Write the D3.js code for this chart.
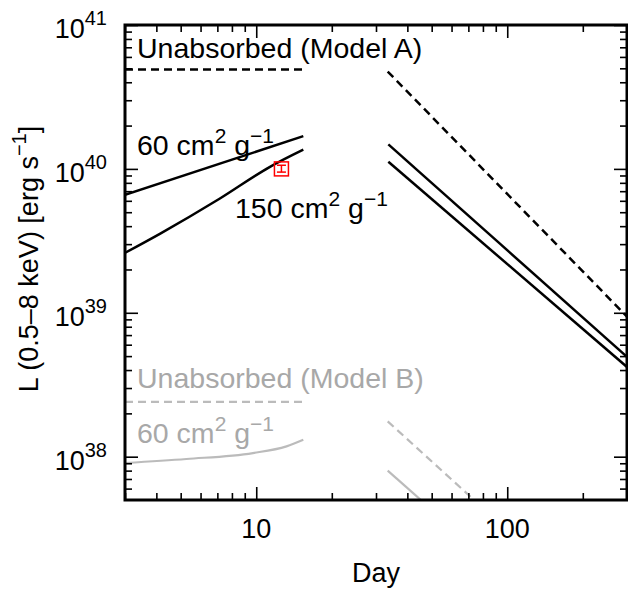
<!DOCTYPE html>
<html>
<head>
<meta charset="UTF-8">
<title>luminosity</title>
<script src="https://cdn.jsdelivr.net/npm/d3@7"></script>
<style>
  html, body { margin: 0; padding: 0; overflow: hidden; background: #fff; }
  svg { display: block; }
  text { font-family: "Liberation Sans", Arial, Helvetica, sans-serif; }
</style>
</head>
<body>
<script>
// day, luminosity pairs
var unabsA_early = [[3, 4.9e40], [15.4, 4.9e40]];
var unabsA_late = [[33.4, 4.75e40], [300, 9.4e38]];
var k60A_early = [[3, 6.6e39], [15.4, 1.69e40]];
var k150A_early = [[3, 2.61e39], [4.13, 3.54e39], [7.14, 6.2e39], [11.3, 1.03e40], [15.4, 1.36e40]];
var k60A_late = [[33.6, 1.48e40], [300, 4.94e38]];
var k150A_late = [[33.6, 1.12e40], [300, 4.2e38]];

var unabsB_early = [[3, 2.4e38], [15.4, 2.4e38]];
var unabsB_late = [[33.4, 1.76e38], [73.8, 5e37]];
var k60B_early = [[3, 9.04e37], [5.27, 9.64e37], [9.7, 1.06e38], [13.2, 1.18e38], [15.4, 1.31e38]];
var k60B_late = [[33.4, 8.0e37], [45.3, 5e37]];

// observed point: day, L, lower, upper
var obs = [[12.6, 1.0e40, 0.95e40, 1.06e40]];

var xMajor = [10, 100];
var xMinor = [3, 4, 5, 6, 7, 8, 9, 20, 30, 40, 50, 60, 70, 80, 90, 200, 300];
var yExp = [38, 39, 40, 41];

var width = 628, height = 589,
    pLeft = 125, pRight = 627, pTop = 25, pBottom = 500;

var x = d3.scaleLog().domain([3, 300]).range([pLeft, pRight]);
var y = d3.scaleLog().domain([5e37, 1e41]).range([pBottom, pTop]);

var yMinor = [];
yExp.forEach(function(e){
    for (var k = 2; k <= 9; k++) {
        var v = k * Math.pow(10, e - 1);
        if (v > 5e37 && v < 1e41) yMinor.push(v);
    }
});
var yMajor = yExp.map(function(e){ return Math.pow(10, e); });

var svg = d3.select("body").append("svg")
    .attr("width", width)
    .attr("height", height);

svg.append("clipPath").attr("id", "clip")
  .append("rect")
    .attr("x", pLeft).attr("y", pTop)
    .attr("width", pRight - pLeft).attr("height", pBottom - pTop);

function renderAxes(){
    var sides = [
        [d3.axisBottom, x, "translate(0," + pBottom + ")", xMajor, xMinor],
        [d3.axisTop, x, "translate(0," + pTop + ")", xMajor, xMinor],
        [d3.axisLeft, y, "translate(" + pLeft + ",0)", yMajor, yMinor],
        [d3.axisRight, y, "translate(" + pRight + ",0)", yMajor, yMinor]
    ];
    sides.forEach(function(s){
        [[s[3], -13], [s[4], -7]].forEach(function(t){
            var g = svg.append("g").attr("transform", s[2]);
            g.call(s[0](s[1]).tickValues(t[0]).tickSize(t[1]).tickSizeOuter(0).tickFormat(""));
            g.select(".domain").remove();
            g.selectAll("line").attr("stroke", "#000").attr("stroke-width", 1.6);
        });
    });

    svg.append("rect")
        .attr("x", pLeft).attr("y", pTop)
        .attr("width", pRight - pLeft).attr("height", pBottom - pTop)
        .attr("fill", "none").attr("stroke", "#000").attr("stroke-width", 3);

    // x tick labels
    svg.selectAll("text.xlab").data(xMajor).enter().append("text")
        .attr("class", "xlab")
        .attr("x", function(d){ return x(d); })
        .attr("y", pBottom + 38)
        .attr("text-anchor", "middle")
        .attr("font-size", 27)
        .text(function(d){ return d; });

    // y tick labels 10^n
    var yl = svg.selectAll("text.ylab").data(yExp).enter().append("text")
        .attr("class", "ylab")
        .attr("x", 107)
        .attr("y", function(d){ return y(Math.pow(10, d)) + 13; })
        .attr("text-anchor", "end")
        .attr("font-size", 27);
    yl.append("tspan").text("10");
    yl.append("tspan").attr("font-size", 20).attr("dy", -13).text(function(d){ return d; });

    svg.append("text")
        .attr("x", (pLeft + pRight) / 2)
        .attr("y", 582)
        .attr("text-anchor", "middle")
        .attr("font-size", 27)
        .text("Day");

    var ylab = svg.append("text")
        .attr("transform", "translate(38,259) rotate(-90)")
        .attr("text-anchor", "middle")
        .attr("font-size", 27);
    ylab.append("tspan").text("L (0.5\u20138 keV) [erg s");
    ylab.append("tspan").attr("font-size", 20).attr("dy", -12).text("\u22121");
    ylab.append("tspan").attr("dy", 12).text("]");
}

function renderLines(){
    var line = d3.line()
        .x(function(d){ return x(d[0]); })
        .y(function(d){ return y(d[1]); })
        .curve(d3.curveMonotoneX);

    var series = [
        {d: unabsA_early, c: "#000", w: 2.5, dash: "8,5"},
        {d: unabsA_late, c: "#000", w: 2.5, dash: "8,5"},
        {d: k60A_early, c: "#000", w: 2.5},
        {d: k150A_early, c: "#000", w: 2.5},
        {d: k60A_late, c: "#000", w: 2.5},
        {d: k150A_late, c: "#000", w: 2.5},
        {d: unabsB_early, c: "#bbbbbb", w: 2.2, dash: "8,5"},
        {d: unabsB_late, c: "#bbbbbb", w: 2.2, dash: "8,5"},
        {d: k60B_early, c: "#bbbbbb", w: 2.2},
        {d: k60B_late, c: "#bbbbbb", w: 2.2}
    ];

    svg.append("g").attr("clip-path", "url(#clip)")
      .selectAll("path").data(series).enter().append("path")
        .attr("d", function(s){ return line(s.d); })
        .attr("fill", "none")
        .attr("stroke", function(s){ return s.c; })
        .attr("stroke-width", function(s){ return s.w; })
        .attr("stroke-dasharray", function(s){ return s.dash || null; });
}

function renderObs(){
    var g = svg.append("g").selectAll("g").data(obs).enter().append("g")
        .attr("stroke", "#ff0000").attr("stroke-width", 1.5).attr("fill", "none");
    g.append("rect")
        .attr("x", function(d){ return x(d[0]) - 7; })
        .attr("y", function(d){ return y(d[1]) - 7; })
        .attr("width", 14).attr("height", 14);
    g.append("line")
        .attr("x1", function(d){ return x(d[0]); }).attr("x2", function(d){ return x(d[0]); })
        .attr("y1", function(d){ return y(d[2]); }).attr("y2", function(d){ return y(d[3]); });
    [2, 3].forEach(function(i){
        g.append("line")
            .attr("x1", function(d){ return x(d[0]) - 4.5; }).attr("x2", function(d){ return x(d[0]) + 4.5; })
            .attr("y1", function(d){ return y(d[i]); }).attr("y2", function(d){ return y(d[i]); });
    });
}

// parts: [text, dy, superscript?]
function label(tx, ty, color, parts){
    var t = svg.append("text").attr("x", tx).attr("y", ty)
        .attr("font-size", 28.5).attr("fill", color);
    parts.forEach(function(p){
        var s = t.append("tspan").text(p[0]);
        if (p[1]) s.attr("dy", p[1]);
        if (p[2]) s.attr("font-size", 21);
    });
}

var unitParts = [["2", -12, true], ["\u00a0g", 12], ["\u22121", -12, true]];

function renderLabels(){
    label(137, 58, "#000", [["Unabsorbed (Model A)"]]);
    label(137, 155, "#000", [["60 cm"]].concat(unitParts));
    label(235, 218, "#000", [["150 cm"]].concat(unitParts));
    label(137, 388, "#a8a8a8", [["Unabsorbed (Model B)"]]);
    label(137, 443, "#a8a8a8", [["60 cm"]].concat(unitParts));
}

renderLines();
renderAxes();
renderObs();
renderLabels();
</script>
</body>
</html>
